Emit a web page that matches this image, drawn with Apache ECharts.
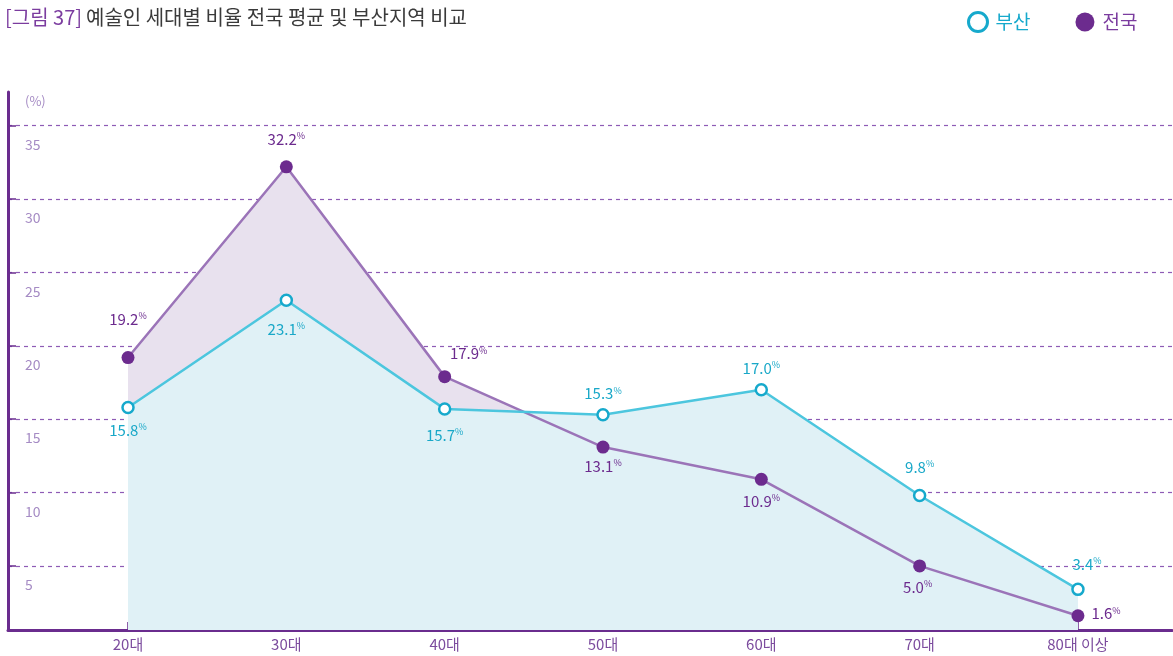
<!DOCTYPE html>
<html>
<head>
<meta charset="utf-8">
<script src="https://cdn.jsdelivr.net/npm/echarts@6/dist/echarts.min.js"></script>
<style>
	html, body { margin: 0; padding: 0; background: #fff; }
	#chart { width: 1173px; height: 656px; }
</style>
</head>
<body>
<div id="chart"></div>
<script>
// 세대 구분
var categories = ['20대', '30대', '40대', '50대', '60대', '70대', '80대 이상'];
// 부산지역 비율 (%)
var busanValues = [15.8, 23.1, 15.7, 15.3, 17.0, 9.8, 3.4];
// 전국 평균 비율 (%)
var nationValues = [19.2, 32.2, 17.9, 13.1, 10.9, 5.0, 1.6];
// y축 눈금
var yTicks = [5, 10, 15, 20, 25, 30, 35];

// 라벨 위치 (점 중심 기준 이동량)
var busanLabelOffset = [[0, 23], [0, 29], [0, 26], [0, -21], [0, -22], [0, -28], [9, -25]];
var nationLabelOffset = [[0, -38], [0, -28], [24, -23], [0, 19], [0, 22], [-2, 21], [28, -2]];

var font = 'Noto Sans CJK KR';
var busanColor = '#16a9cc';
var nationColor = '#6c2b8e';

function toPoints(values){
	return values.map(function(v, i){ return [i, v]; });
}

function labelled(values, offsets){
	return values.map(function(v, i){
		return {
			value: [i, v],
			label: { offset: offsets[i] }
		};
	});
}

function pctLabel(color){
	return {
		show: true,
		position: 'inside',
		color: color,
		fontFamily: font,
		formatter: function(p){
			return '{v|' + p.value[1].toFixed(1) + '}{p|%}';
		},
		rich: {
			v: { fontSize: 15, color: color, fontFamily: font, fontWeight: 'normal' },
			p: { fontSize: 9, color: color, fontFamily: font, fontWeight: 'normal', verticalAlign: 'top', padding: [0, 0, 7, 0] }
		}
	};
}

var myChart = echarts.init(document.getElementById('chart'));
var option = {
	animation: false,
	backgroundColor: '#fff',
	textStyle: { fontFamily: font },
	title: {
		left: 0,
		top: 2,
		text: '{a|[그림 37]} {b|예술인 세대별 비율 전국 평균 및 부산지역 비교}',
		textStyle: {
			fontWeight: 'normal',
			rich: {
				a: { fontSize: 20, color: '#7b3c9f', fontFamily: font, fontWeight: 'normal' },
				b: { fontSize: 20, color: '#3a3a3a', fontFamily: font, fontWeight: 'normal' }
			}
		}
	},
	legend: {
		left: 962,
		top: 6,
		itemWidth: 19,
		itemHeight: 19,
		itemGap: 45,
		textStyle: { fontSize: 19, fontFamily: font, fontWeight: 'normal', padding: [0, 0, 0, 3] },
		data: [{
			name: '부산',
			icon: 'circle',
			itemStyle: { color: '#fff', borderColor: busanColor, borderWidth: 3 },
			textStyle: { color: busanColor }
		},{
			name: '전국',
			icon: 'circle',
			itemStyle: { color: nationColor, borderWidth: 0 },
			textStyle: { color: '#7b3c9f' }
		}]
	},
	grid: {
		left: 8,
		right: 1,
		top: 92,
		bottom: 26,
		containLabel: false
	},
	xAxis: {
		type: 'value',
		min: -0.758,
		max: 6.594,
		minInterval: 1,
		maxInterval: 1,
		axisLine: { onZero: false, lineStyle: { color: '#6a2c8e', width: 3 } },
		axisTick: { inside: true, length: 8, lineStyle: { color: '#6a2c8e', width: 1.5 } },
		splitLine: { show: false },
		axisLabel: {
			margin: 7,
			color: '#7c4c9e',
			fontSize: 15,
			fontFamily: font,
			fontWeight: 'normal',
			showMinLabel: false,
			showMaxLabel: false,
			formatter: function(v){
				return (Math.abs(v - Math.round(v)) < 1e-6 && categories[Math.round(v)]) ? categories[Math.round(v)] : '';
			}
		}
	},
	yAxis: {
		type: 'value',
		min: 0.63,
		max: 37.3,
		minInterval: 5,
		maxInterval: 5,
		name: '(%)',
		nameLocation: 'end',
		nameGap: -16,
		nameTextStyle: { color: '#a58bc4', fontSize: 13, fontFamily: font, fontWeight: 'normal', align: 'left', padding: [0, 0, 0, 17] },
		axisLine: { onZero: false, lineStyle: { color: '#6a2c8e', width: 3 } },
		axisTick: { inside: true, length: 8, lineStyle: { color: '#6a2c8e', width: 1.5 } },
		splitLine: {
			show: true,
			showMinLine: false,
			showMaxLine: false,
			lineStyle: { color: '#8e5bb5', type: [4, 4], width: 1.2 }
		},
		axisLabel: {
			inside: true,
			margin: 17,
			color: '#a58bc4',
			fontSize: 14,
			fontFamily: font,
			fontWeight: 'normal',
			verticalAlign: 'top',
			padding: [12, 0, 0, 0],
			showMinLabel: false,
			showMaxLabel: false,
			formatter: function(v){
				return yTicks.indexOf(Math.round(v)) >= 0 && Math.abs(v - Math.round(v)) < 1e-6 ? String(Math.round(v)) : '';
			}
		}
	},
	series: [{
		// 전국 면적
		name: '전국면적',
		type: 'line',
		data: toPoints(nationValues),
		symbol: 'none',
		silent: true,
		z: 1,
		lineStyle: { width: 0, opacity: 0 },
		areaStyle: { color: '#e8e1ee', opacity: 1, origin: 'start' }
	},{
		// 부산 면적
		name: '부산면적',
		type: 'line',
		data: toPoints(busanValues),
		symbol: 'none',
		silent: true,
		z: 2,
		lineStyle: { width: 0, opacity: 0 },
		areaStyle: { color: '#e0f1f6', opacity: 1, origin: 'start' }
	},{
		name: '전국',
		type: 'line',
		data: labelled(nationValues, nationLabelOffset),
		z: 3,
		symbol: 'circle',
		symbolSize: 13,
		lineStyle: { color: '#9b74b8', width: 2.5 },
		itemStyle: { color: nationColor },
		label: pctLabel('#6c2b8e')
	},{
		name: '부산',
		type: 'line',
		data: labelled(busanValues, busanLabelOffset),
		z: 4,
		symbol: 'circle',
		symbolSize: 11,
		lineStyle: { color: '#4cc6de', width: 2.5 },
		itemStyle: { color: '#fff', borderColor: busanColor, borderWidth: 2.5 },
		label: pctLabel('#19a8c8')
	}]
};
myChart.setOption(option);
</script>
</body>
</html>
